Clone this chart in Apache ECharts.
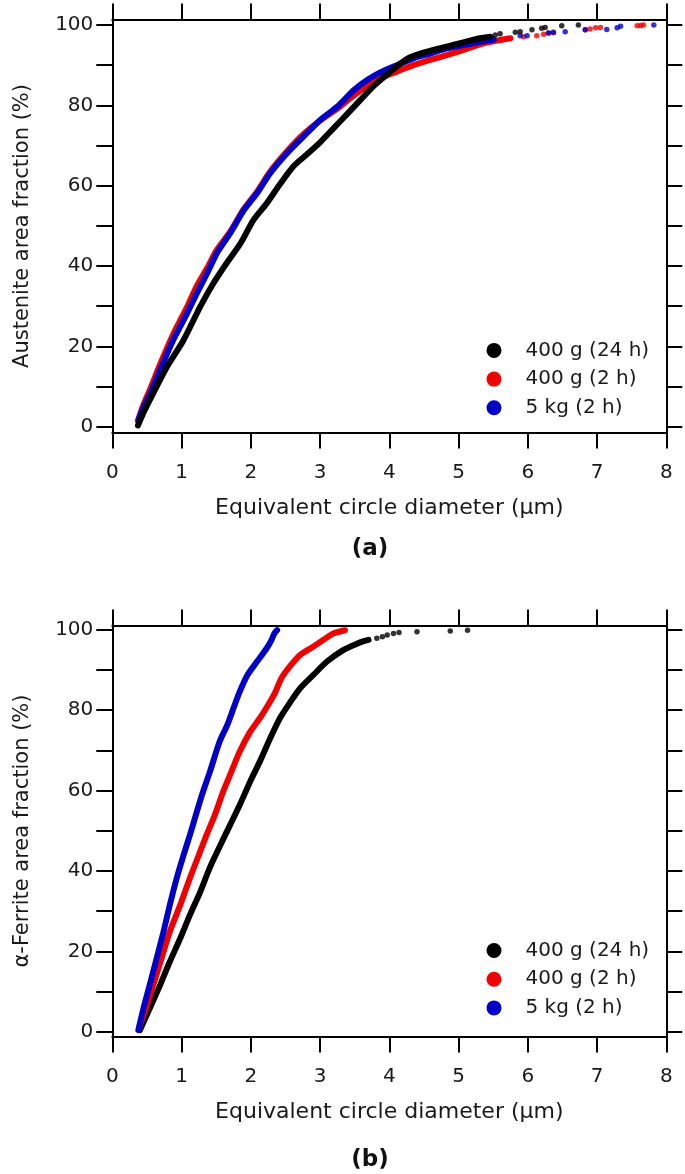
<!DOCTYPE html>
<html>
<head>
<meta charset="utf-8">
<script src="https://cdn.jsdelivr.net/npm/echarts@6/dist/echarts.min.js"></script>
<style>
html,body{margin:0;padding:0;background:#fff;}
#chart{width:685px;height:1174px;}
</style>
</head>
<body>
<div id="chart"></div>
<script>
// ---------- data ----------
const seriesNames = ['400 g (24 h)', '400 g (2 h)', '5 kg (2 h)'];
const xTickValues = [0, 1, 2, 3, 4, 5, 6, 7, 8];
const yLabelValues = [0, 20, 40, 60, 80, 100];
const yTickValues = [0, 10, 20, 30, 40, 50, 60, 70, 80, 90, 100];

// (a) Austenite
const austBlack = [[0.37,0.3],[0.45,3.5],[0.59,8.3],[0.79,14.9],[1.03,21.6],[1.27,29.9],[1.46,35.7],[1.65,40.7],[1.85,45.6],[2.04,51.5],[2.23,55.6],[2.43,60.6],[2.62,64.9],[2.81,67.8],[3.0,70.8],[3.2,74.4],[3.39,77.8],[3.58,81.3],[3.78,84.9],[3.97,87.7],[4.16,90.4],[4.28,91.8],[4.45,92.9],[4.64,93.8],[4.83,94.6],[5.07,95.7],[5.31,96.7],[5.46,97.1]];
const austBlackTail = [[5.53,97.5],[5.60,97.8],[5.82,98.2],[5.89,98.3],[6.06,98.8],[6.20,99.2],[6.25,99.4],[6.49,99.8],[6.73,100]];
const austRed = [[0.37,1.5],[0.45,5.5],[0.55,9.5],[0.69,15.5],[0.88,23.0],[1.08,29.8],[1.22,35.0],[1.37,39.5],[1.51,44.0],[1.70,48.5],[1.90,54.2],[2.09,58.5],[2.28,63.5],[2.52,68.5],[2.76,72.8],[3.0,76.2],[3.25,79.2],[3.49,82.5],[3.68,84.8],[3.87,86.7],[4.11,88.4],[4.35,90.0],[4.59,91.3],[4.83,92.5],[5.07,93.8],[5.31,95.2],[5.55,96.1],[5.75,96.7]];
const austRedTail = [[5.94,97.1],[6.13,97.3],[6.23,97.7],[6.30,98.0],[6.37,98.1],[6.83,98.8],[6.90,99.0],[6.98,99.3],[7.05,99.4],[7.58,99.8],[7.63,99.9],[7.67,100]];
const austBlue = [[0.38,1.7],[0.45,4.8],[0.55,8.3],[0.69,14.1],[0.88,21.6],[1.08,28.2],[1.22,33.2],[1.37,38.2],[1.51,43.2],[1.70,48.1],[1.90,53.9],[2.09,58.1],[2.28,63.1],[2.52,68.0],[2.76,72.2],[3.0,76.3],[3.25,79.7],[3.49,83.8],[3.68,86.3],[3.87,88.2],[4.11,90.0],[4.35,91.7],[4.59,92.9],[4.83,94.2],[5.07,95.0],[5.31,95.8],[5.51,96.4]];
const austBlueTail = [[5.89,97.3],[5.99,97.3],[6.30,98.0],[6.37,98.2],[6.54,98.3],[6.83,98.8],[7.14,98.9],[7.29,99.3],[7.34,99.7],[7.82,100]];

// (b) alpha-Ferrite
const ferBlack = [[0.40,0.4],[0.54,5.8],[0.69,11.6],[0.83,17.4],[0.98,23.2],[1.12,29.0],[1.27,34.8],[1.41,40.9],[1.56,46.4],[1.70,51.4],[1.84,56.4],[1.99,62.2],[2.13,67.2],[2.28,73.0],[2.42,78.0],[2.57,82.0],[2.71,85.4],[2.90,88.7],[3.10,92.1],[3.34,95.0],[3.50,96.3],[3.63,97.2],[3.70,97.5]];
const ferBlackTail = [[3.82,97.9],[3.90,98.3],[3.97,98.7],[4.06,99.1],[4.14,99.3],[4.40,99.5],[4.88,99.7],[5.13,99.9]];
const ferRed = [[0.39,1.2],[0.50,6.6],[0.59,11.6],[0.71,18.2],[0.83,24.9],[0.98,31.5],[1.12,38.2],[1.23,43.1],[1.36,48.9],[1.48,53.9],[1.60,59.7],[1.72,64.7],[1.84,69.7],[1.99,74.6],[2.13,78.0],[2.25,81.3],[2.35,84.3],[2.44,87.9],[2.57,91.0],[2.71,93.7],[2.90,95.8],[3.05,97.5],[3.19,99.1],[3.36,99.9]];
const ferBlue = [[0.376,0.4],[0.45,5.8],[0.54,11.6],[0.64,18.2],[0.74,24.9],[0.83,31.5],[0.93,38.2],[1.03,44.0],[1.12,48.9],[1.22,54.7],[1.31,59.7],[1.41,64.7],[1.55,72.2],[1.66,76.3],[1.75,80.5],[1.84,84.6],[1.95,88.7],[2.09,92.1],[2.23,95.4],[2.30,97.5],[2.34,99.1],[2.38,99.9]];

// ---------- styling ----------
const FONT = 'DejaVu Sans';
const TXT = '#1a1a1a';
const BLACK = '#000000', RED = '#f20000', BLUE = '#0000c8';
const colorOf = {'400 g (24 h)': BLACK, '400 g (2 h)': RED, '5 kg (2 h)': BLUE};

const lineStyleAxis = {color:'#000', width:2};

function xAxes(gi, title) {
  return [
    {gridIndex:gi, type:'value', position:'bottom', min:0, max:8, interval:1,
     axisLine:{show:true, onZero:false, lineStyle:lineStyleAxis},
     axisTick:{show:true, inside:false, length:16, lineStyle:lineStyleAxis},
     axisLabel:{show:true, margin:40.6, verticalAlign:'middle', fontSize:20, fontFamily:FONT, color:TXT},
     splitLine:{show:false},
     name:title, nameLocation:'middle', nameGap:75.5,
     nameTextStyle:{fontSize:22, fontFamily:FONT, color:TXT, verticalAlign:'middle'}},
    {gridIndex:gi, type:'value', position:'top', min:0, max:8, interval:1,
     axisLine:{show:true, onZero:false, lineStyle:lineStyleAxis},
     axisTick:{show:true, inside:false, length:16, lineStyle:lineStyleAxis},
     axisLabel:{show:false}, splitLine:{show:false}}
  ];
}
function yAxes(gi, ymin, ymax, title) {
  return [
    {gridIndex:gi, type:'value', position:'left', min:ymin, max:ymax,
     axisLine:{show:true, onZero:false, lineStyle:lineStyleAxis},
     axisTick:{show:true, inside:false, length:16, customValues:yTickValues, lineStyle:lineStyleAxis},
     axisLabel:{show:true, customValues:yLabelValues, margin:19, fontSize:20, fontFamily:FONT, color:TXT},
     splitLine:{show:false},
     name:title, nameLocation:'middle', nameGap:90,
     nameTextStyle:{fontSize:21, fontFamily:FONT, color:TXT, verticalAlign:'middle'}},
    {gridIndex:gi, type:'value', position:'right', min:ymin, max:ymax,
     axisLine:{show:true, onZero:false, lineStyle:lineStyleAxis},
     axisTick:{show:true, inside:false, length:16, customValues:yTickValues, lineStyle:lineStyleAxis},
     axisLabel:{show:false}, splitLine:{show:false}}
  ];
}

function dense(name, data, xi, yi) {
  const c = colorOf[name];
  return {type:'line', name:name, xAxisIndex:xi, yAxisIndex:yi, data:data,
    symbol:'none', showSymbol:false, silent:true, smooth:0.25,
    lineStyle:{color:c, width:6, cap:'round', join:'round'},
    itemStyle:{color:c, borderWidth:0}};
}
function sparse(name, data, xi, yi) {
  const c = colorOf[name];
  return {type:'scatter', name:name, xAxisIndex:xi, yAxisIndex:yi, data:data,
    symbol:'circle', symbolSize:5.5, silent:true,
    itemStyle:{color:c, borderWidth:0}};
}
function legend(top) {
  return {orient:'vertical', left:481.5, top:top, itemWidth:15, itemHeight:15, itemGap:8.7,
    selectedMode:false, itemStyle:{borderWidth:0},
    data: seriesNames.map(n => ({name:n, icon:'circle'})),
    textStyle:{fontSize:20, fontFamily:FONT, color:TXT, lineHeight:20, padding:[0,0,0,19]}};
}

const XTITLE = 'Equivalent circle diameter (\u03bcm)';

const option = {
  animation:false,
  backgroundColor:'#ffffff',
  grid:[
    {left:112.3, right:18.7, top:19.5, height:413, outerBoundsMode:'none'},
    {left:112.3, right:18.7, top:625.5, height:411, outerBoundsMode:'none'}
  ],
  xAxis:[...xAxes(0, XTITLE), ...xAxes(1, XTITLE)],
  yAxis:[...yAxes(0, -1.44, 101.37, 'Austenite area fraction (%)'),
         ...yAxes(1, -1.19, 101.07, '\u03b1-Ferrite area fraction (%)')],
  legend:[legend(335.4), legend(935.5)],
  series:[
    dense('400 g (2 h)', austRed, 0, 0),
    dense('5 kg (2 h)', austBlue, 0, 0),
    dense('400 g (24 h)', austBlack, 0, 0),
    sparse('400 g (2 h)', austRedTail, 0, 0),
    sparse('5 kg (2 h)', austBlueTail, 0, 0),
    sparse('400 g (24 h)', austBlackTail, 0, 0),
    dense('400 g (24 h)', ferBlack, 2, 2),
    dense('400 g (2 h)', ferRed, 2, 2),
    dense('5 kg (2 h)', ferBlue, 2, 2),
    sparse('400 g (24 h)', ferBlackTail, 2, 2)
  ],
  graphic:[
    {type:'text', x:370, y:549, silent:true,
     style:{text:'(a)', align:'center', verticalAlign:'middle', fontSize:23, fontWeight:'bold', fontFamily:FONT, fill:'#111'}},
    {type:'text', x:370, y:1160, silent:true,
     style:{text:'(b)', align:'center', verticalAlign:'middle', fontSize:23, fontWeight:'bold', fontFamily:FONT, fill:'#111'}}
  ]
};

const chart = echarts.init(document.getElementById('chart'), null, {renderer:'canvas', width:685, height:1174});
chart.setOption(option);
</script>
</body>
</html>
